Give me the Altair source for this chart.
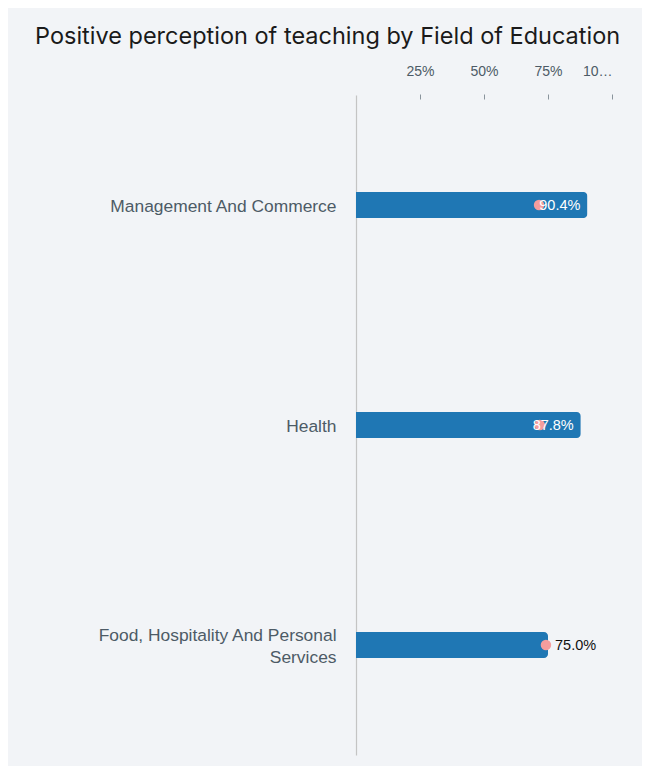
import altair as alt
import pandas as pd

categories = ["Management And Commerce", "Health", "Food, Hospitality And Personal Services"]
values = [0.904, 0.878, 0.750]
benchmark = [0.715, 0.718, 0.742]
tick_values = [0.25, 0.5, 0.75, 1.0]

df = pd.DataFrame({"field": categories, "value": values, "bench": benchmark})
df["label"] = [f"{v*100:.1f}%" for v in values]

TEXT = "#4d5b66"
y_enc = alt.Y(
    "field:N", sort=categories, title=None,
    scale=alt.Scale(paddingInner=0, paddingOuter=0),
    axis=alt.Axis(
        labelFont="Liberation Sans", labelFontSize=17.4, labelColor=TEXT,
        labelPadding=20, labelLimit=300, ticks=False, labelLineHeight=22,
        labelOffset={"condition": {"test": "datum.value == 'Food, Hospitality And Personal Services'", "value": -9}, "value": 2},
        domainColor="#c4c4c4", domainWidth=1.2,
        labelExpr="datum.label == 'Food, Hospitality And Personal Services' ? ['Food, Hospitality And Personal', 'Services'] : datum.label",
    ),
)
x_enc = alt.X(
    "value:Q", title=None,
    scale=alt.Scale(domain=[0, 1], nice=False),
    axis=alt.Axis(
        orient="top", values=tick_values, format=".0%", grid=False, domain=False,
        tickColor="#8a949c", tickSize=5, offset=-4, labelPadding=16,
        labelFont="Liberation Sans", labelFontSize=14, labelColor=TEXT, labelLimit=30,
    ),
)

base = alt.Chart(df)
bars = base.mark_bar(color="#1f77b4", size=26, cornerRadiusEnd=4).encode(x=x_enc, y=y_enc)
dots = base.mark_circle(color="#f59d9d", size=110, opacity=1).encode(x="bench:Q", y=alt.Y("field:N", sort=categories))
inside = base.transform_filter("datum.value >= 0.8").mark_text(
    align="right", dx=-7, dy=1, font="Liberation Sans", fontSize=14.5, color="white", baseline="middle"
).encode(x="value:Q", y=alt.Y("field:N", sort=categories), text="label:N")
outside = base.transform_filter("datum.value < 0.8").mark_text(
    align="left", dx=7, dy=1, font="Liberation Sans", fontSize=14.5, color="#111111", baseline="middle"
).encode(x="value:Q", y=alt.Y("field:N", sort=categories), text="label:N")

chart = alt.layer(bars, dots, inside, outside).properties(
    width=256, height=660,
    autosize=alt.AutoSizeParams(type="none"),
    padding={"left": 348, "top": 87, "right": 30, "bottom": 11},
    background="#f2f4f7",
    title=alt.TitleParams(
        "Positive perception of teaching by Field of Education",
        anchor="start", frame="group", dx=-321, dy=-12,
        font="Inter", fontSize=23.5, fontWeight="normal", color="#1a1a1a",
    ),
).configure_view(stroke=None)

chart.save("out.html", embed_options={"renderer": "svg", "actions": False})
